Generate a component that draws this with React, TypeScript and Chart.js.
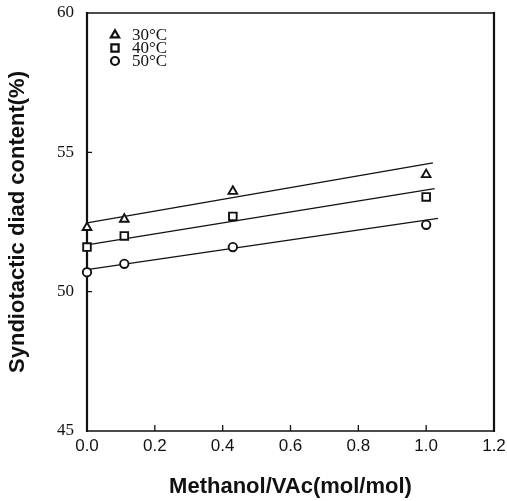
import React, { useEffect, useRef } from 'react';
import { Chart, registerables } from 'chart.js';
import { drawPoint } from 'chart.js/helpers';

Chart.register(...registerables);

// Methanol / vinyl acetate molar ratio
const methanolRatio = [0, 0.11, 0.43, 1.0];

// Syndiotactic diad content (%) at each polymerization temperature
const synd30 = [52.3, 52.6, 53.6, 54.2];
const synd40 = [51.6, 52.0, 52.7, 53.4];
const synd50 = [50.7, 51.0, 51.6, 52.4];

// Straight-line fits through each temperature series (end points)
const fitX30 = [0, 1.02];
const fit30 = [52.47, 54.62];
const fitX40 = [0, 1.025];
const fit40 = [51.68, 53.7];
const fitX50 = [0, 1.035];
const fit50 = [50.79, 52.63];

const seriesLabels = ['30°C', '40°C', '50°C'];
const pointStyles = ['triangle', 'rect', 'circle'];
const pointRadii = [5, 5.4, 4.2];

const xTicks = [0, 0.2, 0.4, 0.6, 0.8, 1.0, 1.2];
const yTicks = [45, 50, 55, 60];

const xTitle = 'Methanol/VAc(mol/mol)';
const yTitle = 'Syndiotactic diad content(%)';

const ink = '#111111';

const zip = (xs: number[], ys: number[]) => xs.map((x, i) => ({ x, y: ys[i] }));

// Box around the plotting area, with inward tick marks
const framePlugin = {
  id: 'frame',
  beforeDatasetsDraw(chart: any) {
    const { ctx, chartArea: a } = chart;
    ctx.save();
    ctx.strokeStyle = ink;
    ctx.lineWidth = 1.5;
    ctx.beginPath();
    ctx.moveTo(a.left, a.top);
    ctx.lineTo(a.right, a.top);
    ctx.moveTo(a.left, a.bottom);
    ctx.lineTo(a.right, a.bottom);
    ctx.stroke();
    ctx.lineWidth = 2.2;
    ctx.beginPath();
    ctx.moveTo(a.left, a.top - 1);
    ctx.lineTo(a.left, a.bottom + 1);
    ctx.moveTo(a.right, a.top - 1);
    ctx.lineTo(a.right, a.bottom + 1);
    ctx.stroke();

    const xs = chart.scales.x;
    const ys = chart.scales.y;
    ctx.lineWidth = 1.3;
    ctx.beginPath();
    xTicks.slice(1, -1).forEach((v) => {
      const px = xs.getPixelForValue(v);
      ctx.moveTo(px, a.bottom);
      ctx.lineTo(px, a.bottom - 6);
    });
    yTicks.slice(1, -1).forEach((v) => {
      const py = ys.getPixelForValue(v);
      ctx.moveTo(a.left, py);
      ctx.lineTo(a.left + 5, py);
    });
    ctx.stroke();
    ctx.restore();
  },
};

// Symbol key in the upper-left corner of the plot
const keyPlugin = {
  id: 'symbolKey',
  afterDraw(chart: any) {
    const { ctx, chartArea: a } = chart;
    ctx.save();
    seriesLabels.forEach((label, i) => {
      const cy = a.top + 22 + i * 13;
      const cx = a.left + 28;
      ctx.fillStyle = '#ffffff';
      ctx.strokeStyle = ink;
      ctx.lineWidth = 2.2;
      drawPoint(ctx, { pointStyle: pointStyles[i], radius: pointRadii[i] * 0.95, rotation: 0, borderWidth: 2.2 } as any, cx, cy);
      ctx.fillStyle = ink;
      ctx.font = '17px "Liberation Serif", serif';
      ctx.textBaseline = 'middle';
      ctx.textAlign = 'left';
      ctx.fillText(label, a.left + 45, cy + 0.5);
    });
    ctx.restore();
  },
};

export default function App() {
  const canvasRef = useRef<HTMLCanvasElement | null>(null);

  useEffect(() => {
    const canvas = canvasRef.current;
    if (!canvas) return;

    const pointSets = [synd30, synd40, synd50].map((ys, i) => ({
      type: 'scatter' as const,
      label: seriesLabels[i],
      data: zip(methanolRatio, ys),
      pointStyle: pointStyles[i],
      pointRadius: pointRadii[i],
      pointBackgroundColor: '#ffffff',
      pointBorderColor: ink,
      pointBorderWidth: 1.9,
      showLine: false,
      clip: false as any,
      order: 0,
    }));

    const fitSets = [
      zip(fitX30, fit30),
      zip(fitX40, fit40),
      zip(fitX50, fit50),
    ].map((data) => ({
      type: 'scatter' as const,
      label: '',
      data,
      showLine: true,
      borderColor: ink,
      borderWidth: 1.2,
      pointRadius: 0,
      clip: false as any,
      order: 1,
    }));

    const chart = new Chart(canvas, {
      type: 'scatter',
      data: { datasets: [...pointSets, ...fitSets] as any },
      options: {
        animation: false,
        responsive: false,
        devicePixelRatio: 1,
        layout: { padding: { top: 13, right: 13, left: 0, bottom: 0 } },
        plugins: {
          legend: { display: false },
          tooltip: { enabled: false },
        },
        scales: {
          x: {
            type: 'linear',
            min: 0,
            max: 1.2,
            afterBuildTicks: (s: any) => {
              s.ticks = xTicks.map((value) => ({ value }));
            },
            afterFit: (s: any) => {
              s.height = 70;
              s.paddingLeft = 0;
              s.paddingRight = 0;
            },
            grid: { display: false, drawTicks: false },
            border: { display: false },
            ticks: {
              padding: 5,
              color: ink,
              maxRotation: 0,
              autoSkip: false,
              font: { family: '"Liberation Sans", Arial, sans-serif', size: 17 },
              callback: (v: any) => Number(v).toFixed(1),
            },
            title: {
              display: true,
              text: xTitle,
              color: ink,
              font: { family: '"Liberation Sans", Arial, sans-serif', size: 22, weight: 'bold' },
              padding: { top: 0, bottom: 1 },
            },
          },
          y: {
            type: 'linear',
            min: 45,
            max: 60,
            afterBuildTicks: (s: any) => {
              s.ticks = yTicks.map((value) => ({ value }));
            },
            afterFit: (s: any) => {
              s.width = 87;
              s.paddingTop = 0;
              s.paddingBottom = 0;
            },
            grid: { display: false, drawTicks: false },
            border: { display: false },
            ticks: {
              padding: 13,
              color: ink,
              font: { family: '"Liberation Serif", serif', size: 17 },
              callback: (v: any) => String(v),
            },
            title: {
              display: true,
              text: yTitle,
              color: ink,
              font: { family: '"Liberation Sans", Arial, sans-serif', size: 22, weight: 'bold' },
              padding: { top: 5, bottom: 0 },
            },
          },
        },
      },
      plugins: [framePlugin, keyPlugin],
    });

    return () => chart.destroy();
  }, []);

  return (
    <div style={{ position: 'absolute', left: 0, top: 0, width: 507, height: 501, background: '#ffffff' }}>
      <canvas ref={canvasRef} width={507} height={501} style={{ display: 'block' }} />
    </div>
  );
}
